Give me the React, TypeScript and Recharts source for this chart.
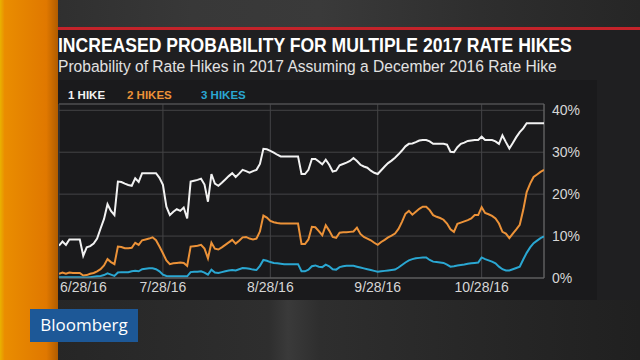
import React from "react";
import { LineChart, Line, XAxis, YAxis, CartesianGrid, ReferenceLine } from "recharts";

// Daily series, day 0 = 6/28/16 ... day 140 = 11/15/16 (values in %)
const ONE_HIKE = [
  7.7, 8.7, 7.9, 9.2, 9.2, 9.2, 9.2, 5.3, 7.3, 7.6,
  8.2, 9.4, 11.8, 14.1, 17.6, 16.0, 15.0, 23.0, 22.9, 22.5,
  22.2, 22.0, 23.8, 22.9, 25.0, 25.0, 25.0, 25.0, 25.0, 23.9,
  22.2, 17.0, 15.0, 15.8, 16.4, 16.0, 16.8, 14.2, 23.0, 23.2,
  23.4, 23.7, 22.3, 18.2, 24.8, 22.5, 22.0, 22.7, 23.5, 24.3,
  25.0, 24.1, 24.9, 25.8, 25.5, 25.1, 25.5, 25.8, 27.2, 30.8,
  30.7, 30.3, 29.9, 29.4, 29.0, 29.0, 29.0, 29.0, 29.0, 29.0,
  24.8, 24.8, 25.8, 28.4, 28.4, 27.8, 27.1, 28.2, 27.0, 25.4,
  25.6, 26.9, 27.2, 27.5, 27.9, 28.6, 27.9, 27.0, 26.6, 26.3,
  25.6, 25.1, 24.8, 25.7, 26.6, 27.4, 28.0, 28.7, 29.5, 30.4,
  31.4, 32.0, 32.1, 32.4, 32.8, 32.9, 32.9, 32.6, 32.0, 32.0,
  32.0, 32.0, 31.8, 30.1, 30.0, 31.2, 32.0, 32.3, 32.7, 32.8,
  32.9, 32.9, 33.7, 32.9, 32.9, 32.9, 32.6, 32.0, 34.0, 32.4,
  30.9, 32.2, 33.6, 34.8, 35.7, 36.9, 36.9, 36.9, 36.9, 36.9,
  36.9,
];

const TWO_HIKES = [
  1.0, 1.3, 1.0, 1.3, 1.2, 1.2, 1.2, 0.6, 0.7, 1.0,
  1.2, 1.6, 2.1, 3.0, 4.5, 3.8, 3.3, 7.5, 7.4, 7.1,
  7.1, 7.2, 8.4, 7.9, 9.0, 9.2, 9.4, 9.7, 9.0, 7.5,
  5.9, 4.2, 3.3, 3.5, 3.6, 3.7, 3.6, 2.9, 7.5, 7.6,
  7.7, 7.9, 7.0, 4.7, 8.4, 7.0, 6.8, 7.3, 7.9, 8.5,
  9.1, 8.2, 8.9, 9.7, 9.8, 9.4, 9.2, 9.4, 11.1, 14.9,
  14.4, 13.6, 13.3, 13.1, 13.0, 13.0, 13.0, 13.0, 13.0, 13.0,
  8.1, 8.1, 9.2, 12.2, 12.1, 11.2, 10.2, 12.6, 11.3, 9.8,
  9.6, 10.8, 10.9, 10.9, 11.0, 11.1, 12.0, 10.5, 9.8, 9.4,
  9.0, 8.4, 7.9, 8.6, 9.1, 9.7, 10.1, 10.6, 11.7, 13.4,
  15.3, 16.0, 15.1, 15.8, 16.5, 17.0, 17.0, 16.2, 15.0, 14.6,
  14.3, 13.9, 13.0, 11.6, 11.0, 12.9, 13.2, 13.5, 13.8, 14.2,
  15.0, 15.0, 16.9, 15.5, 15.2, 14.8, 14.2, 13.0, 11.0, 10.6,
  9.5, 10.6, 11.6, 12.7, 16.2, 20.5, 22.5, 24.1, 24.7, 25.3,
  25.8,
];

const THREE_HIKES = [
  0.2, 0.2, 0.2, 0.2, 0.2, 0.2, 0.2, 0.1, 0.1, 0.2,
  0.3, 0.4, 0.5, 0.7, 1.1, 0.8, 0.5, 1.3, 1.4, 1.4,
  1.4, 1.6, 1.7, 1.6, 2.1, 2.2, 2.3, 2.3, 2.1, 1.6,
  0.8, 0.5, 0.4, 0.4, 0.4, 0.4, 0.4, 0.4, 1.4, 1.5,
  1.5, 1.6, 1.3, 0.8, 2.0, 1.3, 1.2, 1.4, 1.6, 1.8,
  1.9, 1.8, 2.1, 2.4, 2.3, 2.2, 2.0, 1.9, 2.9, 4.3,
  4.1, 3.8, 3.6, 3.5, 3.4, 3.3, 3.3, 3.3, 3.3, 3.3,
  1.6, 1.6, 2.0, 2.8, 3.0, 2.7, 2.6, 3.2, 2.8, 2.1,
  2.0, 2.6, 2.8, 2.9, 2.9, 2.9, 2.7, 2.5, 2.3, 2.1,
  1.9, 1.7, 1.5, 1.6, 1.7, 1.8, 1.9, 2.0, 2.5, 3.1,
  3.7, 4.2, 4.5, 4.7, 4.8, 4.9, 4.9, 4.3, 3.9, 3.8,
  3.7, 3.6, 3.2, 2.7, 2.8, 3.0, 3.1, 3.2, 3.4, 3.5,
  3.6, 3.7, 4.9, 4.5, 4.2, 3.9, 3.5, 2.7, 2.1, 1.8,
  1.8, 2.1, 2.4, 2.7, 4.4, 6.0, 7.3, 8.3, 8.9, 9.5,
  9.9,
];

const X_TICKS = [0, 30, 61, 92, 122];
const X_TICK_LABELS = ["6/28/16", "7/28/16", "8/28/16", "9/28/16", "10/28/16"];
const Y_TICKS = [0, 10, 20, 30, 40];
const LAST_DAY = 140;
const Y_MAX = 41.5;

const SERIES = [
  { key: "one", label: "1 HIKE", color: "#f2f2f2" },
  { key: "two", label: "2 HIKES", color: "#ec9238" },
  { key: "three", label: "3 HIKES", color: "#2aa7d2" },
];

const TITLE = "INCREASED PROBABILITY FOR MULTIPLE 2017 RATE HIKES";
const SUBTITLE = "Probability of Rate Hikes in 2017 Assuming a December 2016 Rate Hike";

const data = ONE_HIKE.map((v, i) => ({
  day: i,
  one: v,
  two: TWO_HIKES[i],
  three: THREE_HIKES[i],
}));

const FONT = "'Liberation Sans', Arial, Helvetica, sans-serif";

const XTick = (props: any) => {
  const { x, y, payload, index } = props;
  const idx = X_TICKS.indexOf(payload.value);
  const label = idx >= 0 ? X_TICK_LABELS[idx] : "";
  const first = index === 0;
  return (
    <text
      x={first ? x + 1 : x}
      y={y + 10}
      textAnchor={first ? "start" : "middle"}
      fill="#d6d6d6"
      fontSize={14}
      fontFamily={FONT}
    >
      {label}
    </text>
  );
};

export default function App() {
  return (
    <div
      style={{
        position: "absolute",
        left: 0,
        top: 0,
        width: 640,
        height: 360,
        overflow: "hidden",
        background: "#252527",
      }}
    >
      <svg width={640} height={360} style={{ position: "absolute", left: 0, top: 0 }}>
        <defs>
          <linearGradient id="topband" x1="0" y1="0" x2="1" y2="0">
            <stop offset="0" stopColor="#2c2c2c" />
            <stop offset="0.3" stopColor="#383838" />
            <stop offset="0.5" stopColor="#3a3a3a" />
            <stop offset="0.75" stopColor="#2e2e2e" />
            <stop offset="1" stopColor="#262626" />
          </linearGradient>
          <linearGradient id="orange" x1="0" y1="0" x2="1" y2="0">
            <stop offset="0" stopColor="#e9b200" />
            <stop offset="0.08" stopColor="#ea8d00" />
            <stop offset="0.8" stopColor="#e07800" />
            <stop offset="1" stopColor="#b05c00" />
          </linearGradient>
          <linearGradient id="bottomband" x1="0" y1="0" x2="1" y2="0">
            <stop offset="0" stopColor="#242424" />
            <stop offset="0.42" stopColor="#2e2e2e" />
            <stop offset="0.45" stopColor="#3a3a3a" />
            <stop offset="0.5" stopColor="#2e2e2e" />
            <stop offset="1" stopColor="#202020" />
          </linearGradient>
        </defs>
        <rect x={0} y={0} width={640} height={30} fill="url(#topband)" />
        <rect x={0} y={300} width={640} height={60} fill="url(#bottomband)" />
        <rect x={57} y={30} width={583} height={270} fill="#1f1f21" />
        <rect x={57} y={80} width={540} height={220} fill="#1a1a1c" />
        <rect x={57} y={27} width={583} height={3} fill="#c4232a" />
        <rect x={0} y={0} width={58} height={360} fill="url(#orange)" />

        <text
          transform="translate(58,52) scale(0.83,1)"
          x={0}
          y={0}
          fill="#ffffff"
          fontSize={20}
          fontWeight={700}
          fontFamily={FONT}
          textLength={619}
          lengthAdjust="spacingAndGlyphs"
        >
          {TITLE}
        </text>
        <text
          transform="translate(58,72) scale(0.9,1)"
          x={0}
          y={0}
          fill="#e2e2e2"
          fontSize={17}
          fontFamily={FONT}
          textLength={554}
          lengthAdjust="spacingAndGlyphs"
        >
          {SUBTITLE}
        </text>

        {SERIES.map((s, i) => (
          <text
            key={s.key}
            x={[68, 127, 201][i]}
            y={99}
            fill={s.color}
            fontSize={11.5}
            fontWeight={700}
            fontFamily={FONT}
          >
            {s.label}
          </text>
        ))}

        <rect x={30} y={309} width={108} height={33} fill="#1d5897" />
        <text x={84} y={331} fill="#ffffff" fontSize={17} fontFamily="'Open Sans', Arial, sans-serif" textAnchor="middle">
          Bloomberg
        </text>
      </svg>

      <div style={{ position: "absolute", left: 0, top: 0 }}>
        <LineChart
          width={640}
          height={360}
          data={data}
          margin={{ top: 104, right: 56, bottom: 52, left: 59 }}
        >
          <CartesianGrid stroke="#444446" strokeWidth={1} />
          <XAxis
            dataKey="day"
            type="number"
            domain={[0, LAST_DAY]}
            ticks={X_TICKS}
            tick={<XTick />}
            tickLine={false}
            tickSize={0}
            tickMargin={4}
            height={30}
            axisLine={{ stroke: "#6a6a6a" }}
            interval={0}
            allowDataOverflow
          />
          <YAxis
            orientation="right"
            type="number"
            domain={[0, Y_MAX]}
            ticks={Y_TICKS}
            tickFormatter={(v: number) => `${v}%`}
            tick={{ fill: "#d6d6d6", fontSize: 14, fontFamily: FONT }}
            tickLine={false}
            axisLine={false}
            tickSize={0}
            tickMargin={8}
            width={40}
            allowDataOverflow
          />
          <ReferenceLine y={Y_MAX} stroke="#555557" />
          <ReferenceLine x={LAST_DAY} stroke="#6a6a6a" />
          {SERIES.map((s) => (
            <Line
              key={s.key}
              dataKey={s.key}
              stroke={s.color}
              strokeWidth={2}
              dot={false}
              type="linear"
              isAnimationActive={false}
            />
          ))}
        </LineChart>
      </div>
    </div>
  );
}
